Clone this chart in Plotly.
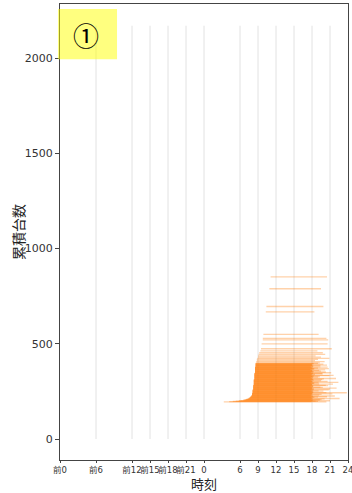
import plotly.graph_objects as go

# ---- data ----
tick_hours = [-24, -18, -12, -9, -6, -3, 0, 6, 9, 12, 15, 18, 21, 24]
tick_labels = ["前0", "前6", "前12", "前15", "前18", "前21", "0", "6", "9", "12", "15", "18", "21", "24"]
guide_hours = [-18, -12, -9, -6, -3, 0, 6, 9, 12, 15, 18, 21]
guide_top = 2170

# cumulative count of each vehicle, with its start and end time (hours)
band_a_count = [195, 198, 201, 204, 207, 210, 213, 216, 219, 222, 225, 228, 231, 234, 237, 240,
                243, 246, 249, 252, 255, 258, 261, 264, 267, 270, 273, 276, 279, 282, 285, 288,
                291, 294, 297, 300, 303, 306, 309, 312, 315, 318, 321, 324, 327, 330, 333, 336,
                339, 342, 345, 348, 351, 354, 357, 360, 363, 366, 369, 372, 375, 378, 381, 384,
                387, 390, 393, 396]
band_a_start = [3.3, 4.8, 5.8, 6.5, 6.9, 7.2, 7.4, 7.6, 7.7, 7.8, 7.9, 7.9, 8.0, 8.0, 8.0, 8.0,
                8.1, 8.1, 8.1, 8.1, 8.1, 8.1, 8.2, 8.2, 8.2, 8.2, 8.2, 8.2, 8.2, 8.2, 8.3, 8.3,
                8.3, 8.3, 8.3, 8.3, 8.3, 8.3, 8.3, 8.3, 8.4, 8.4, 8.4, 8.4, 8.4, 8.4, 8.4, 8.4,
                8.4, 8.4, 8.4, 8.5, 8.5, 8.5, 8.5, 8.5, 8.5, 8.5, 8.5, 8.5, 8.5, 8.5, 8.6, 8.6,
                8.6, 8.6, 8.6, 8.6]
band_a_end = [20.4, 19.0, 21.0, 18.2, 19.6, 18.0, 22.6, 17.9, 18.4, 20.5, 17.8, 18.1, 19.2, 17.9, 21.4, 18.0,
              23.8, 18.2, 17.8, 19.9, 18.1, 20.8, 17.9, 18.3, 22.1, 18.0, 19.4, 17.8, 18.2, 20.3, 18.0, 21.5,
              17.9, 18.4, 19.1, 18.0, 20.6, 17.8, 18.3, 19.7, 18.1, 22.0, 17.9, 18.2, 19.3, 18.0, 20.9, 17.8,
              18.5, 19.8, 18.1, 21.2, 17.9, 18.3, 19.5, 18.0, 20.2, 17.7, 18.4, 19.0, 18.1, 20.6, 17.8, 18.2,
              19.4, 18.0, 19.9, 18.3]

band_b_count = [196, 199, 202, 205, 208, 211, 214, 217, 220, 223, 226, 229, 232, 235, 238, 241,
                244, 247, 250, 253, 256, 259, 262, 265, 268, 271, 274, 277, 280, 283, 286, 289,
                292, 295, 298, 301, 304, 307, 310, 313, 316, 319, 322, 325, 328, 331, 334, 337,
                340, 343, 346, 349, 352, 355, 358, 361, 364, 367, 370, 373, 376, 379, 382, 385,
                388, 391, 394, 397]
band_b_start = [4.2, 5.3, 6.1, 6.7, 7.0, 7.3, 7.5, 7.6, 7.7, 7.8,
                7.9, 8.0, 8.0, 8.0, 8.0, 8.1, 8.1, 8.1, 8.1, 8.1,
                8.1, 8.2, 8.2, 8.2, 8.2, 8.2, 8.2, 8.2, 8.2, 8.3,
                8.3, 8.3, 8.3, 8.3, 8.3, 8.3, 8.3, 8.3, 8.3, 8.4,
                8.4, 8.4, 8.4, 8.4, 8.4, 8.4, 8.4, 8.4, 8.4, 8.4,
                8.5, 8.5, 8.5, 8.5, 8.5, 8.5, 8.5, 8.5, 8.5, 8.5,
                8.5, 8.6, 8.6, 8.6, 8.6, 8.6, 8.6, 8.6]
band_b_end = [17.9, 18.6, 18.0, 19.3, 17.8, 20.1, 18.1, 17.9, 19.0, 18.2,
              21.8, 17.8, 18.0, 19.6, 18.1, 17.9, 20.4, 18.2, 18.0, 19.1,
              17.8, 18.3, 21.0, 18.0, 17.9, 19.8, 18.1, 18.2, 20.7, 17.9,
              18.0, 19.2, 18.3, 17.8, 22.4, 18.1, 18.0, 19.5, 17.9, 18.2,
              20.0, 18.0, 17.8, 19.0, 18.1, 18.3, 21.6, 17.9, 18.0, 19.7,
              18.2, 17.8, 20.3, 18.1, 18.0, 19.2, 17.9, 18.3, 20.8, 18.0,
              17.8, 19.4, 18.2, 18.0, 20.5, 17.9, 18.1, 19.0]

upper_count = [400, 406, 412, 418, 424, 430, 437, 445, 453, 463, 474, 500, 521, 529, 550, 668,
               696, 789, 851]
upper_start = [8.7, 8.7, 8.8, 8.8, 8.9, 9.0, 9.0, 9.1, 9.2, 9.4, 9.5, 9.6, 9.8, 9.8, 9.9, 10.3,
               10.4, 10.9, 11.1]
upper_end = [19.3, 20.1, 18.5, 19.0, 20.9, 19.5, 18.6, 20.2, 19.8, 18.9, 21.3, 20.6, 20.7, 20.4, 19.1, 18.4,
             19.9, 19.5, 20.5]

cum_count = band_a_count + band_b_count + upper_count
start_h = band_a_start + band_b_start + upper_start
end_h = band_a_end + band_b_end + upper_end

fig = go.Figure()

for h in guide_hours:
    fig.add_trace(go.Scatter(x=[h, h], y=[0, guide_top], mode="lines",
                             line=dict(color="#e2e2e2", width=1), hoverinfo="skip",
                             showlegend=False))

for c, s, e in zip(cum_count, start_h, end_h):
    fig.add_trace(go.Scatter(x=[s, e], y=[c, c], mode="lines",
                             line=dict(color="#ff7f0e", width=1.3), opacity=0.35,
                             hoverinfo="skip", showlegend=False))

axis_common = dict(showline=True, linecolor="#444", linewidth=1, mirror=True,
                   ticks="outside", tickcolor="#444", showgrid=False,
                   zeroline=False, automargin=False)

fig.update_xaxes(range=[-24, 24], tickvals=tick_hours, ticktext=tick_labels, tickangle=0,
                 ticklen=2, ticklabeloverflow="allow",
                 tickfont=dict(family="DejaVu Sans, Noto Sans CJK JP", size=8.5, color="#333"),
                 **axis_common)
fig.update_yaxes(range=[-110, 2284], tickvals=[0, 500, 1000, 1500, 2000], ticklen=4,
                 tickfont=dict(family="DejaVu Sans", size=11, color="#333"),
                 **axis_common)

fig.add_shape(type="rect", xref="paper", yref="paper", x0=-0.007, x1=0.198,
              y0=0.879, y1=0.989, fillcolor="rgba(255,255,0,0.5)", line=dict(width=0),
              layer="above")
fig.add_annotation(text="①", xref="paper", yref="paper", x=0.09, y=0.934,
                   xanchor="center", yanchor="middle",
                   showarrow=False, font=dict(family="Noto Sans CJK JP", size=26, color="black"))

fig.add_annotation(text="累積台数", xref="paper", yref="paper", x=-0.146, y=0.5,
                   textangle=-90, showarrow=False, xanchor="center", yanchor="middle",
                   font=dict(family="Noto Sans CJK JP", size=14, color="#222"))
fig.add_annotation(text="時刻", xref="paper", yref="paper", x=0.5, y=-0.075,
                   showarrow=False, xanchor="center", yanchor="bottom", borderpad=0,
                   font=dict(family="Noto Sans CJK JP", size=13, color="#222"))

fig.update_layout(width=352, height=493, margin=dict(l=60, r=4, t=4, b=33),
                  plot_bgcolor="white", paper_bgcolor="white")

fig.write_html("out.html")
